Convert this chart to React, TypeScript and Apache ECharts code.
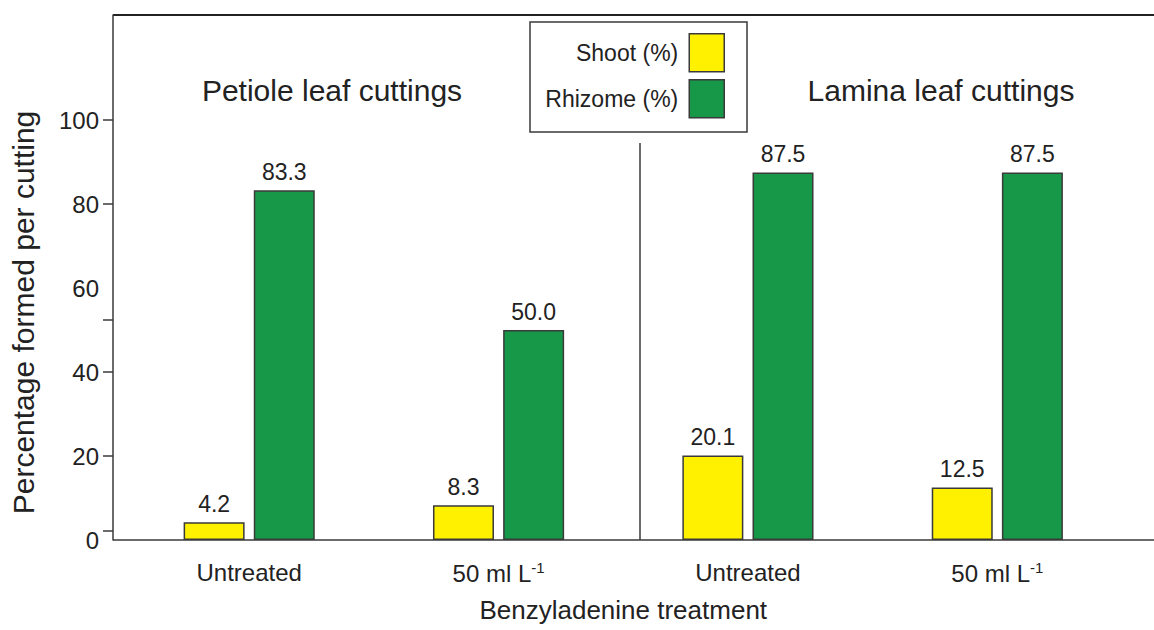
import React, { useEffect, useRef } from "react";
import * as echarts from "echarts";

const groups = ["Petiole leaf cuttings", "Lamina leaf cuttings"];
const treatments = ["Untreated", "50 ml L-1"];
const categories = ["Petiole|Untreated", "Petiole|50 ml L-1", "Lamina|Untreated", "Lamina|50 ml L-1"];
const shootValues = [4.2, 8.3, 20.1, 12.5];
const rhizomeValues = [83.3, 50.0, 87.5, 87.5];
const yLabelValues = [0, 20, 40, 60, 80, 100];
const yTickValues = [2.1, 20, 40, 52.4, 80, 100];
const seriesNames = ["Shoot (%)", "Rhizome (%)"];

const FONT = "'Liberation Sans', Arial, Helvetica, sans-serif";
const TEXT = "#222";
const LINE = "#3a3a3a";
const YELLOW = "#FFF100";
const GREEN = "#169848";

export default function App() {
  const ref = useRef<HTMLDivElement>(null);
  useEffect(() => {
    if (!ref.current) return;
    const chart = echarts.init(ref.current, undefined, { renderer: "svg" });
    const barLabel = {
      show: true,
      position: "top",
      distance: 7,
      fontSize: 23,
      color: TEXT,
      fontFamily: FONT,
      formatter: (p: any) => Number(p.value).toFixed(1),
    };
    const legendBase = {
      orient: "vertical",
      align: "right",
      right: 429,
      padding: 0,
      itemWidth: 35,
      itemHeight: 38,
      icon: "rect",
      itemStyle: { borderColor: LINE, borderWidth: 1.5 },
      textStyle: { fontSize: 23, color: TEXT, fontFamily: FONT, padding: [0, 6, 0, 0] },
      selectedMode: false,
    };
    chart.setOption({
      animation: false,
      backgroundColor: "#fff",
      textStyle: { fontFamily: FONT },
      grid: { left: 124.5, right: 32, top: 15, bottom: 90, containLabel: false },
      legend: [
        { ...legendBase, data: [seriesNames[0]], top: 33 },
        { ...legendBase, data: [seriesNames[1]], top: 79 },
      ],
      xAxis: {
        type: "category",
        data: categories,
        name: "Benzyladenine treatment",
        nameLocation: "middle",
        nameGap: 57,
        nameTextStyle: { fontSize: 26, color: TEXT, fontFamily: FONT },
        axisLine: { show: false },
        axisTick: { show: false },
        axisLabel: {
          margin: 20,
          fontSize: 24,
          color: TEXT,
          fontFamily: FONT,
          formatter: (v: string) => {
            const t = v.split("|")[1];
            if (t === treatments[1]) return "50 ml L{sup|-1}";
            return t;
          },
          rich: {
            sup: { fontSize: 15, color: TEXT, fontFamily: FONT, verticalAlign: "top", padding: [0, 0, 12, 0] },
          },
        },
      },
      yAxis: {
        type: "value",
        position: "left",
        min: 0,
        max: 125,
        interval: 20,
        offset: 11.5,
        name: "Percentage formed per cutting",
        nameLocation: "middle",
        nameGap: 75,
        nameTextStyle: { fontSize: 30, color: TEXT, fontFamily: FONT, padding: [0, 70, 0, 0] },
        axisLine: { show: true, lineStyle: { color: LINE, width: 1.5 } },
        axisTick: { show: true, length: 10, lineStyle: { color: LINE, width: 1.5 }, customValues: yTickValues },
        axisLabel: { margin: 14, fontSize: 24, color: TEXT, fontFamily: FONT, customValues: yLabelValues },
        splitLine: { show: false },
      },
      series: [
        {
          name: seriesNames[0],
          type: "bar",
          data: shootValues,
          barWidth: 61,
          barGap: "15%",
          itemStyle: { color: YELLOW, borderColor: LINE, borderWidth: 1.5 },
          label: barLabel,
        },
        {
          name: seriesNames[1],
          type: "bar",
          data: rhizomeValues,
          barWidth: 61,
          barGap: "15%",
          itemStyle: { color: GREEN, borderColor: LINE, borderWidth: 1.5 },
          label: barLabel,
        },
      ],
      graphic: [
        { type: "line", shape: { x1: 113, y1: 15, x2: 1154, y2: 15 }, style: { stroke: "#222", lineWidth: 2 } },
        { type: "line", shape: { x1: 113, y1: 540, x2: 1154, y2: 540 }, style: { stroke: LINE, lineWidth: 1.5 } },
        { type: "line", shape: { x1: 640, y1: 143, x2: 640, y2: 540 }, style: { stroke: LINE, lineWidth: 1.5 } },
        { type: "rect", shape: { x: 530, y: 22, width: 217, height: 110 }, style: { fill: "none", stroke: LINE, lineWidth: 1.5 } },
        {
          type: "text",
          x: 332,
          y: 90,
          style: { text: groups[0], fontSize: 30, fill: TEXT, fontFamily: FONT, textAlign: "center", textVerticalAlign: "middle" },
        },
        {
          type: "text",
          x: 941,
          y: 90,
          style: { text: groups[1], fontSize: 30, fill: TEXT, fontFamily: FONT, textAlign: "center", textVerticalAlign: "middle" },
        },
      ],
    });
    return () => chart.dispose();
  }, []);
  return <div ref={ref} style={{ position: "fixed", left: 0, top: 0, width: 1154, height: 630 }} />;
}
